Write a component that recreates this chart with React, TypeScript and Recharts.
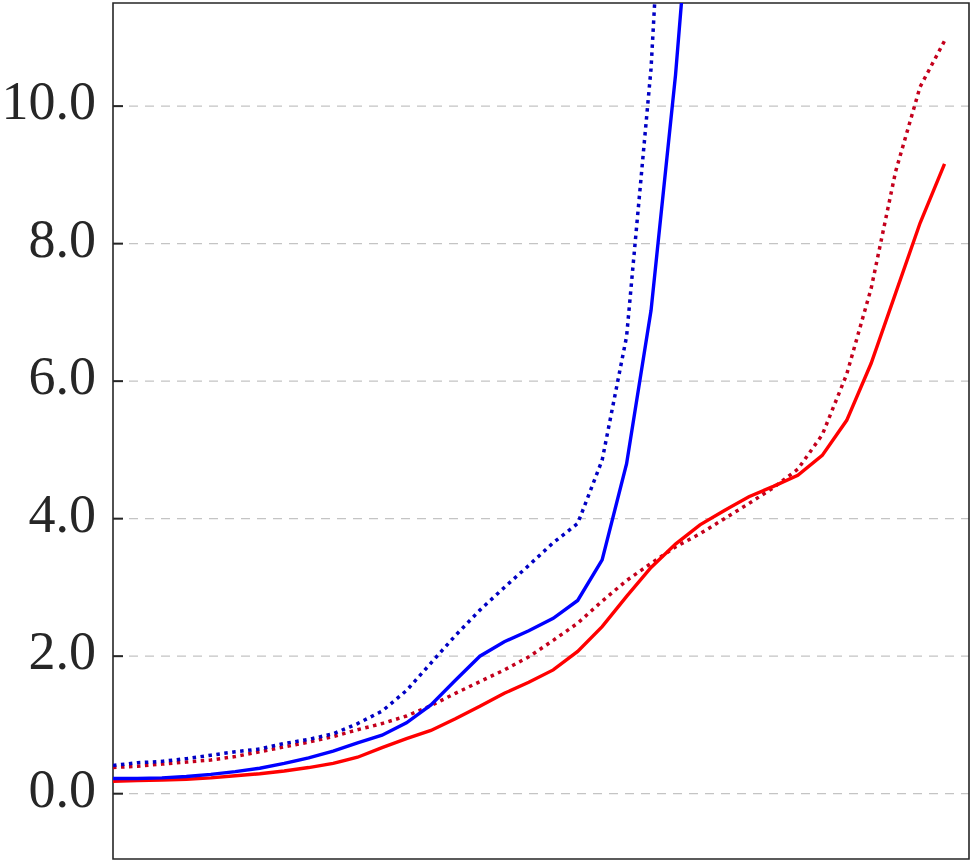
import { LineChart, Line, XAxis, YAxis, CartesianGrid, ReferenceArea } from 'recharts';

// x steps (no labels on the x axis in the original)
const STEPS = [
  0, 1, 2, 3, 4, 5, 6, 7, 8, 9, 10, 11, 12, 13, 14, 15, 16, 17,
  18, 19, 20, 21, 22, 23, 24, 25, 26, 27, 28, 29, 30, 31, 32, 33, 34,
];
const Y_TICKS = [0, 2, 4, 6, 8, 10];

// blue series leave the top of the plot, so they stop early
const BLUE_SOLID = [
  0.22, 0.22, 0.23, 0.25, 0.28, 0.32, 0.37, 0.44, 0.52, 0.62, 0.74, 0.85,
  1.03, 1.29, 1.65, 2.0, 2.21, 2.37, 2.55, 2.81, 3.4, 4.8, 7.03, 10.45, 14.8,
];
const BLUE_DOTTED = [
  0.41, 0.45, 0.47, 0.51, 0.56, 0.61, 0.65, 0.73, 0.79, 0.87, 1.02, 1.2,
  1.5, 1.9, 2.3, 2.67, 3.0, 3.32, 3.65, 3.93, 4.85, 6.65, 10.55, 17.0,
];
const RED_SOLID = [
  0.18, 0.19, 0.2, 0.21, 0.23, 0.26, 0.29, 0.33, 0.38, 0.44, 0.53, 0.67,
  0.8, 0.92, 1.09, 1.27, 1.46, 1.62, 1.8, 2.07, 2.43, 2.87, 3.29, 3.63,
  3.91, 4.12, 4.32, 4.47, 4.63, 4.92, 5.43, 6.26, 7.28, 8.3, 9.16,
];
const RED_DOTTED = [
  0.38, 0.4, 0.43, 0.46, 0.49, 0.54, 0.61, 0.68, 0.75, 0.83, 0.93, 1.02,
  1.13, 1.28, 1.46, 1.63, 1.8, 1.99, 2.23, 2.48, 2.8, 3.1, 3.35, 3.59,
  3.78, 4.0, 4.22, 4.45, 4.72, 5.22, 6.1, 7.35, 9.05, 10.28, 10.95,
];

const rows = STEPS.map((step, i) => ({
  step,
  blueSolid: BLUE_SOLID[i] ?? null,
  blueDotted: BLUE_DOTTED[i] ?? null,
  redSolid: RED_SOLID[i] ?? null,
  redDotted: RED_DOTTED[i] ?? null,
}));

const FRAME = '#262626';
const Y_DOMAIN: [number, number] = [-0.95, 11.5];
const X_DOMAIN: [number, number] = [0, 35];

function LeftLabel({ x, y, payload }: any) {
  return (
    <text
      x={x}
      y={y}
      dy={13}
      textAnchor="end"
      fill="#262626"
      fontFamily="'Liberation Serif', 'DejaVu Serif', serif"
      fontSize={54}
    >
      {Number(payload.value).toFixed(1)}
    </text>
  );
}

const NoLabel = () => <g />;

export default function App() {
  return (
    <div style={{ position: 'absolute', left: 0, top: 0, background: '#fff' }}>
      <LineChart
        width={974}
        height={863}
        data={rows}
        margin={{ top: 3, right: 5, bottom: 4, left: 0 }}
      >
        <CartesianGrid
          vertical={false}
          yAxisId="left"
          horizontalValues={Y_TICKS}
          stroke="#c4c4c4"
          strokeDasharray="9 7"
          strokeWidth={1.2}
        />
        <XAxis
          dataKey="step"
          type="number"
          domain={X_DOMAIN}
          allowDataOverflow
          tick={false}
          tickLine={false}
          axisLine={false}
          height={0}
        />
        {/* negative tickSize turns the tick marks inward */}
        <YAxis
          yAxisId="left"
          domain={Y_DOMAIN}
          allowDataOverflow
          ticks={Y_TICKS}
          width={113}
          tickSize={-10}
          tickMargin={27}
          tickLine={{ stroke: FRAME, strokeWidth: 2 }}
          tick={<LeftLabel />}
          axisLine={false}
        />
        <YAxis
          yAxisId="right"
          orientation="right"
          domain={Y_DOMAIN}
          allowDataOverflow
          ticks={Y_TICKS}
          width={0}
          tickSize={-10}
          tickMargin={0}
          tickLine={{ stroke: FRAME, strokeWidth: 2 }}
          tick={<NoLabel />}
          axisLine={false}
        />
        <Line
          yAxisId="left"
          dataKey="redDotted"
          type="linear"
          stroke="#c4001c"
          strokeWidth={3.5}
          strokeDasharray="3.5 4.5"
          dot={false}
          isAnimationActive={false}
        />
        <Line
          yAxisId="left"
          dataKey="blueDotted"
          type="linear"
          stroke="#0000c4"
          strokeWidth={3.5}
          strokeDasharray="3.5 4.5"
          dot={false}
          isAnimationActive={false}
        />
        <Line
          yAxisId="left"
          dataKey="redSolid"
          type="linear"
          stroke="#ff0000"
          strokeWidth={3.4}
          dot={false}
          isAnimationActive={false}
        />
        <Line
          yAxisId="left"
          dataKey="blueSolid"
          type="linear"
          stroke="#0000ff"
          strokeWidth={3.4}
          dot={false}
          isAnimationActive={false}
        />
        <ReferenceArea
          yAxisId="left"
          x1={X_DOMAIN[0]}
          x2={X_DOMAIN[1]}
          y1={Y_DOMAIN[0]}
          y2={Y_DOMAIN[1]}
          fill="none"
          fillOpacity={0}
          stroke={FRAME}
          strokeWidth={1.6}
          ifOverflow="visible"
        />
      </LineChart>
    </div>
  );
}
